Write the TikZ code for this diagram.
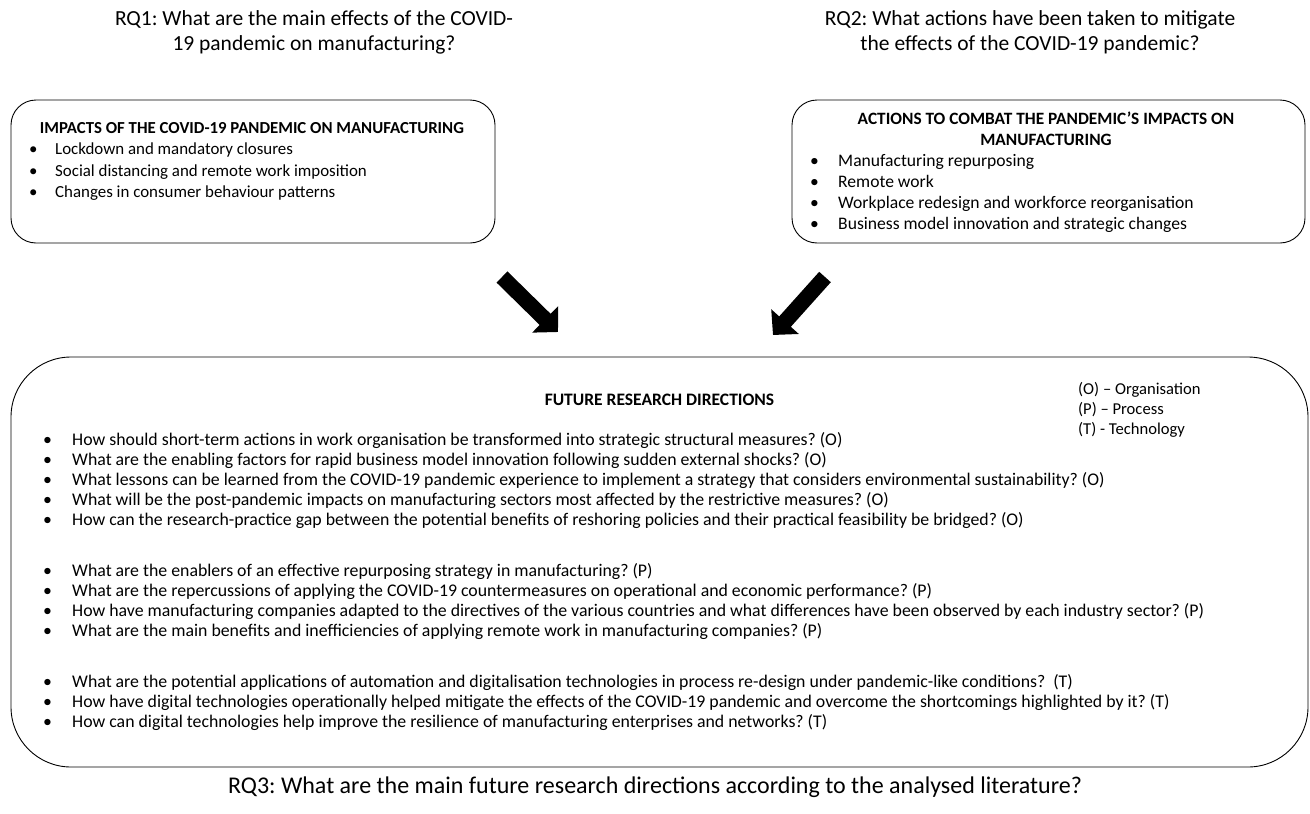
\documentclass[tikz,border=0pt]{standalone}
\usepackage{fontspec}
\setmainfont{Carlito}
\usetikzlibrary{arrows.meta}
\frenchspacing
\begin{document}
\begin{tikzpicture}[x=1pt,y=-1pt,
  rq/.style={font=\fontsize{21.5}{25}\selectfont, align=center, inner sep=0pt},
  rbox/.style={draw, line width=0.9pt, rounded corners=25pt, inner sep=0pt},
  bigbox/.style={draw, line width=0.9pt, rounded corners=60pt, inner sep=0pt},
  btitle/.style={font=\fontsize{16.8}{21}\selectfont\bfseries, align=center, inner sep=0pt},
  ftitle/.style={font=\fontsize{17.5}{20}\selectfont\bfseries, inner sep=0pt},
  fixh/.style={text height=12.5pt, text depth=4pt},
  bitem/.style={font=\fontsize{16.9}{21}\selectfont, anchor=west, inner sep=0pt, fixh},
  bitemb/.style={font=\fontsize{17.6}{21}\selectfont, anchor=west, inner sep=0pt, fixh},
  fitem/.style={font=\fontsize{17.8}{20}\selectfont, anchor=west, inner sep=0pt, fixh},
  legend/.style={font=\fontsize{16.6}{20}\selectfont, anchor=west, inner sep=0pt, fixh},
  bigarrow/.style={line width=15.6pt, -{Triangle[width=36pt,length=18pt]}}
]
\useasboundingbox (0,0) rectangle (1310,814);

% research questions
\node[rq] (rq1) at (314,32.5) {RQ1: What are the main effects of the COVID-\\19 pandemic on manufacturing?};
\node[rq] (rq2) at (1030,32.5) {RQ2: What actions have been taken to mitigate\\the effects of the COVID-19 pandemic?};
\node[rq, font=\fontsize{24}{28}\selectfont] (rq3) at (655,787) {RQ3: What are the main future research directions according to the analysed literature?};

% box 1
\node[rbox, minimum width=484pt, minimum height=143pt] (b1) at (253,171.5) {};
\node[btitle] (b1t) at (252,128) {IMPACTS OF THE COVID-19 PANDEMIC ON MANUFACTURING};
\foreach \y/\t [count=\i] in {150/Lockdown and mandatory closures,
                   172/Social distancing and remote work imposition,
                   193/Changes in consumer behaviour patterns}{
  \node[bitem] (b1d\i) at (29,\y) {•};
  \node[bitem] (b1i\i) at (55,\y) {\t};
}

% box 2
\node[rbox, minimum width=513pt, minimum height=143pt] (b2) at (1048.5,171.5) {};
\node[btitle, font=\fontsize{17.3}{21}\selectfont\bfseries] (b2t) at (1046,128.5) {ACTIONS TO COMBAT THE PANDEMIC’S IMPACTS ON\\MANUFACTURING};
\foreach \y/\t [count=\i] in {162/Manufacturing repurposing,
                   183/Remote work,
                   204/Workplace redesign and workforce reorganisation,
                   225/Business model innovation and strategic changes}{
  \node[bitemb] (b2d\i) at (810,\y) {•};
  \node[bitemb] (b2i\i) at (838,\y) {\t};
}

% arrows
\coordinate (a1s) at (502,277);
\coordinate (a1e) at (558,332);
\coordinate (a2s) at (825,277);
\coordinate (a2e) at (773,335);
\draw[bigarrow] (a1s) -- (a1e);
\draw[bigarrow] (a2s) -- (a2e);

% big box
\node[bigbox, minimum width=1297pt, minimum height=410pt] (fb) at (659.5,562) {};
\node[ftitle] (ft) at (659.5,400) {FUTURE RESEARCH DIRECTIONS};
\node[legend] (lg1) at (1078,390) {(O) – Organisation};
\node[legend] (lg2) at (1078,410) {(P) – Process};
\node[legend] (lg3) at (1078,430) {(T) - Technology};

\foreach \y/\t [count=\i] in {
 441/How should short-term actions in work organisation be transformed into strategic structural measures? (O),
 461/What are the enabling factors for rapid business model innovation following sudden external shocks? (O),
 481/What lessons can be learned from the COVID-19 pandemic experience to implement a strategy that considers environmental sustainability? (O),
 501/What will be the post-pandemic impacts on manufacturing sectors most affected by the restrictive measures? (O),
 521/How can the research-practice gap between the potential benefits of reshoring policies and their practical feasibility be bridged? (O),
 572/What are the enablers of an effective repurposing strategy in manufacturing? (P),
 592/What are the repercussions of applying the COVID-19 countermeasures on operational and economic performance? (P),
 612/How have manufacturing companies adapted to the directives of the various countries and what differences have been observed by each industry sector? (P),
 632/What are the main benefits and inefficiencies of applying remote work in manufacturing companies? (P),
 683/What are the potential applications of automation and digitalisation technologies in process re-design under pandemic-like conditions? \ (T),
 703/How have digital technologies operationally helped mitigate the effects of the COVID-19 pandemic and overcome the shortcomings highlighted by it? (T),
 723/How can digital technologies help improve the resilience of manufacturing enterprises and networks? (T)}{
  \node[fitem] (fd\i) at (43,\y) {•};
  \node[fitem] (fi\i) at (72,\y) {\t};
}
\end{tikzpicture}
\end{document}
